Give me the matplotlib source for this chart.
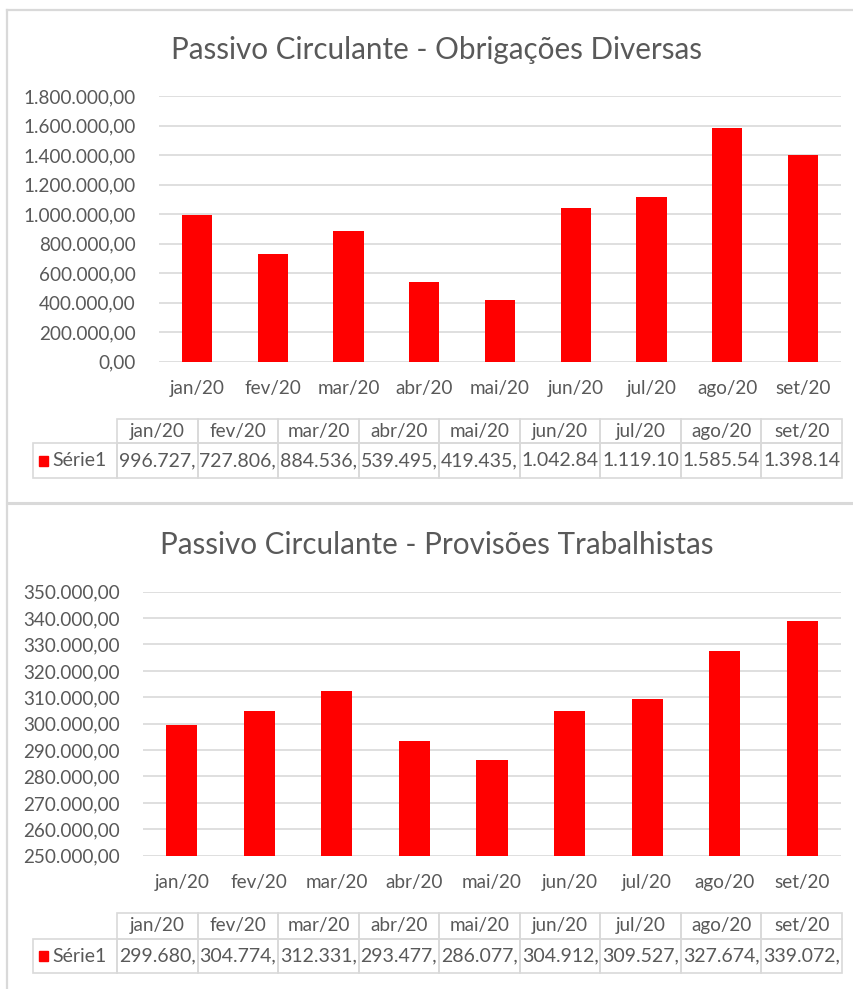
import matplotlib
matplotlib.use("Agg")
import matplotlib.pyplot as plt
from matplotlib.patches import Rectangle
from matplotlib.ticker import FuncFormatter

plt.rcParams['font.family'] = ['Lato', 'DejaVu Sans']

meses = ["jan/20", "fev/20", "mar/20", "abr/20", "mai/20", "jun/20", "jul/20", "ago/20", "set/20"]
obrigacoes = [996727, 727806, 884536, 539495, 419435, 1042840, 1119100, 1585540, 1398140]
provisoes = [299680, 304774, 312331, 293477, 286077, 304912, 309527, 327674, 339072]
serie = "Série1"

W, H = 854, 989
GRID = "#d9d9d9"
TXT = "#595959"
RED = "#ff0000"


def br(v):
    s = f"{v:,.2f}"
    return s.replace(",", "X").replace(".", ",").replace("X", ".")


def px_axes(fig, left, top, right, bottom):
    return fig.add_axes([left / W, 1 - bottom / H, (right - left) / W, (bottom - top) / H])


def data_table(deco, values, left, split, right, top, mid, bottom):
    colw = (right - split) / len(meses)
    # header row (no corner cell)
    for i, m in enumerate(meses):
        x0 = split + i * colw
        deco.add_patch(Rectangle((x0, top), colw, mid - top, fill=False, edgecolor=GRID, linewidth=1.2))
        deco.text(x0 + colw / 2, (top + mid) / 2, m, ha="center", va="center", fontsize=13.6, color=TXT)
    # data row
    deco.add_patch(Rectangle((left, mid), split - left, bottom - mid, fill=False, edgecolor=GRID, linewidth=1.2))
    deco.add_patch(Rectangle((left + 6, (mid + bottom) / 2 - 5), 9, 10, color=RED))
    deco.text(left + 19, (mid + bottom) / 2, serie, ha="left", va="center", fontsize=14, color=TXT)
    for i, v in enumerate(values):
        x0 = split + i * colw
        deco.add_patch(Rectangle((x0, mid), colw, bottom - mid, fill=False, edgecolor=GRID, linewidth=1.2))
        deco.text(x0 + colw / 2, (mid + bottom) / 2, br(v)[:8], ha="center", va="center",
                  fontsize=14, color=TXT)


def chart(fig, deco, values, title, box, ylim, step, title_y):
    ax = px_axes(fig, *box)
    x = range(len(meses))
    ax.bar(x, values, width=0.4, color=RED, zorder=3)
    ax.set_xlim(-0.5, len(meses) - 0.5)
    ax.set_ylim(*ylim)
    ax.set_yticks(list(range(ylim[0], ylim[1] + 1, step)))
    ax.yaxis.set_major_formatter(FuncFormatter(lambda v, p: br(v)))
    ax.set_xticks(list(x))
    ax.set_xticklabels(meses)
    ax.grid(axis="y", color=GRID, linewidth=1.2, zorder=0)
    for s in ax.spines.values():
        s.set_visible(False)
    ax.tick_params(length=0, colors=TXT, labelsize=13.6)
    ax.tick_params(axis="y", pad=17)
    ax.tick_params(axis="x", pad=13)
    deco.text(437, title_y, title, ha="center", va="center", fontsize=21.3, color=TXT)


fig = plt.figure(figsize=(W / 100, H / 100), dpi=100)
deco = fig.add_axes([0, 0, 1, 1])
deco.set_xlim(0, W)
deco.set_ylim(H, 0)
deco.axis("off")

# chart borders
deco.plot([7, 7], [10, H], color=GRID, linewidth=1.6)
deco.plot([7, W], [10, 10], color=GRID, linewidth=1.6)
deco.plot([7, W], [503, 503], color=GRID, linewidth=2.2)

chart(fig, deco, obrigacoes, "Passivo Circulante - Obrigações Diversas",
      (159, 96, 841, 361.7), (0, 1800000), 200000, 50)
data_table(deco, obrigacoes, 33, 117, 842, 419, 443, 478)

chart(fig, deco, provisoes, "Passivo Circulante - Provisões Trabalhistas",
      (143, 591.7, 841, 855.7), (250000, 350000), 10000, 545)
data_table(deco, provisoes, 33, 117, 842, 913, 939, 973)

fig.savefig("out.png", dpi=100)
